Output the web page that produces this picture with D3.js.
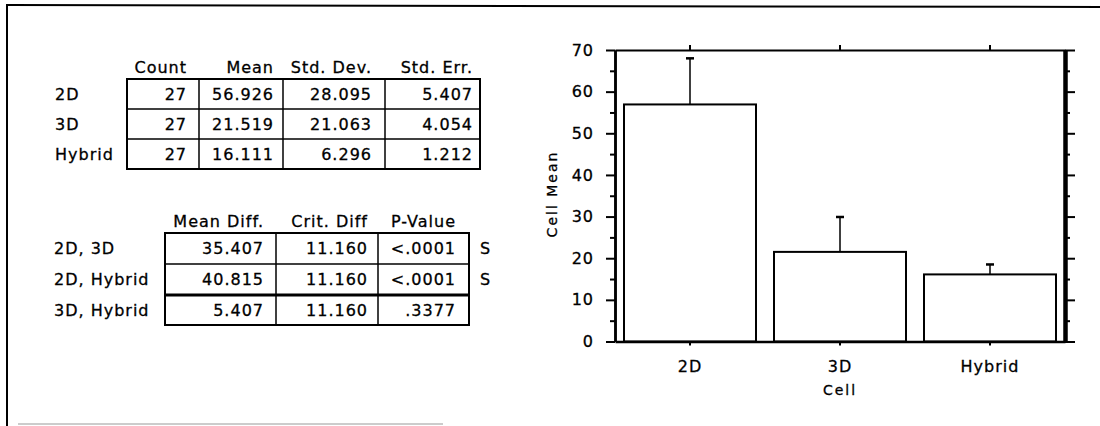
<!DOCTYPE html>
<html>
<head>
<meta charset="utf-8">
<script src="https://cdn.jsdelivr.net/npm/d3@7"></script>
<style>
  html, body { margin: 0; padding: 0; background: #fff; }
  svg { display: block; }
  text { font-family: "DejaVu Sans", sans-serif; fill: #000; stroke: #000; stroke-width: 0.3px; }
</style>
</head>
<body>
<svg id="chart" width="1100" height="426"></svg>
<script>
// ---------- data ----------
const groups = ["2D", "3D", "Hybrid"];
const counts = [27, 27, 27];
const means = [56.926, 21.519, 16.111];
const stdDevs = [28.095, 21.063, 6.296];
const stdErrs = [5.407, 4.054, 1.212];
const errTops = [68.0, 29.9, 18.5];           // upper end of error bars
const statHeaders = ["Count", "Mean", "Std. Dev.", "Std. Err."];

const pairs = ["2D, 3D", "2D, Hybrid", "3D, Hybrid"];
const meanDiffs = [35.407, 40.815, 5.407];
const critDiffs = [11.160, 11.160, 11.160];
const pValues = ["<.0001", "<.0001", ".3377"];
const sigFlags = ["S", "S", ""];
const compHeaders = ["Mean Diff.", "Crit. Diff", "P-Value"];

const yMajorTicks = [0, 10, 20, 30, 40, 50, 60, 70];
const yMinorTicks = [5, 15, 25, 35, 45, 55, 65];
const xTitle = "Cell";
const yTitle = "Cell Mean";

(function () {
// ---------- setup ----------
const svg = d3.select("#chart");
const f3 = d3.format(".3f");
const LS = "1px";

// outer frame
svg.append("line").attr("x1", 6).attr("y1", 5).attr("x2", 1100).attr("y2", 7)
  .attr("stroke", "#000").attr("stroke-width", 2);
svg.append("line").attr("x1", 7).attr("y1", 4).attr("x2", 7).attr("y2", 426)
  .attr("stroke", "#000").attr("stroke-width", 2);
svg.append("line").attr("x1", 18).attr("y1", 424).attr("x2", 443).attr("y2", 424)
  .attr("stroke", "#bbb").attr("stroke-width", 1.5);

function txt(g, x, y, s, anchor, size) {
  return g.append("text").attr("x", x).attr("y", y).attr("text-anchor", anchor || "start")
    .attr("dominant-baseline", "central")
    .style("font-size", (size || 16) + "px").style("letter-spacing", LS).text(s);
}

// ---------- table 1: descriptive stats ----------
const t1 = svg.append("g");
const t1Cols = [127, 199, 283, 385, 480];
const t1TextRight = [187, 274, 372, 473];
const t1Rows = [79, 109, 139, 169];
const t1HeaderY = 67;
statHeaders.forEach((h, i) => txt(t1, t1TextRight[i], t1HeaderY, h, "end"));
t1.append("rect").attr("x", t1Cols[0]).attr("y", t1Rows[0])
  .attr("width", t1Cols[4] - t1Cols[0]).attr("height", t1Rows[3] - t1Rows[0])
  .attr("fill", "none").attr("stroke", "#000").attr("stroke-width", 2);
t1Cols.slice(1, 4).forEach(xx => t1.append("line").attr("x1", xx).attr("x2", xx)
  .attr("y1", t1Rows[0]).attr("y2", t1Rows[3]).attr("stroke", "#000").attr("stroke-width", 1.5));
t1Rows.slice(1, 3).forEach(yy => t1.append("line").attr("x1", t1Cols[0]).attr("x2", t1Cols[4])
  .attr("y1", yy).attr("y2", yy).attr("stroke", "#000").attr("stroke-width", 1.5));
groups.forEach((g, r) => {
  const cy = (t1Rows[r] + t1Rows[r + 1]) / 2;
  txt(t1, 55, cy, g, "start");
  const vals = [String(counts[r]), f3(means[r]), f3(stdDevs[r]), f3(stdErrs[r])];
  vals.forEach((v, c) => txt(t1, t1TextRight[c], cy, v, "end"));
});

// ---------- table 2: comparisons ----------
const t2 = svg.append("g");
const t2Cols = [165, 276, 378, 469];
const t2TextRight = [264, 368, 456];
const t2Rows = [233, 264, 295, 325];
const t2HeaderY = 221;
compHeaders.forEach((h, i) => txt(t2, t2TextRight[i], t2HeaderY, h, "end"));
t2.append("rect").attr("x", t2Cols[0]).attr("y", t2Rows[0])
  .attr("width", t2Cols[3] - t2Cols[0]).attr("height", t2Rows[3] - t2Rows[0])
  .attr("fill", "none").attr("stroke", "#000").attr("stroke-width", 2);
t2Cols.slice(1, 3).forEach(xx => t2.append("line").attr("x1", xx).attr("x2", xx)
  .attr("y1", t2Rows[0]).attr("y2", t2Rows[3]).attr("stroke", "#000").attr("stroke-width", 1.5));
t2.append("line").attr("x1", t2Cols[0]).attr("x2", t2Cols[3]).attr("y1", t2Rows[1]).attr("y2", t2Rows[1])
  .attr("stroke", "#000").attr("stroke-width", 1.5);
t2.append("line").attr("x1", t2Cols[0]).attr("x2", t2Cols[3]).attr("y1", t2Rows[2]).attr("y2", t2Rows[2])
  .attr("stroke", "#000").attr("stroke-width", 3);
pairs.forEach((p, r) => {
  const cy = (t2Rows[r] + t2Rows[r + 1]) / 2;
  txt(t2, 54, cy, p, "start");
  const vals = [f3(meanDiffs[r]), f3(critDiffs[r]), pValues[r]];
  vals.forEach((v, c) => txt(t2, t2TextRight[c], cy, v, "end"));
  if (sigFlags[r]) txt(t2, 480, cy, sigFlags[r], "start");
});

// ---------- bar chart ----------
const pLeft = 615, pRight = 1065, pTop = 50, pBottom = 341.5;
const x = d3.scaleBand().domain(groups).range([pLeft, pRight]).paddingInner(0.12).paddingOuter(0.06);
const y = d3.scaleLinear().domain([0, 70]).range([pBottom, pTop]);
const chart = svg.append("g");

// bars
chart.selectAll("rect.bar").data(groups).join("rect").attr("class", "bar")
  .attr("x", d => x(d)).attr("width", x.bandwidth())
  .attr("y", (d, i) => y(means[i])).attr("height", (d, i) => y(0) - y(means[i]))
  .attr("fill", "#fff").attr("stroke", "#000").attr("stroke-width", 2);

// error bars (upper only)
groups.forEach((g, i) => {
  const cx = x(g) + x.bandwidth() / 2;
  chart.append("line").attr("x1", cx).attr("x2", cx).attr("y1", y(means[i])).attr("y2", y(errTops[i]))
    .attr("stroke", "#000").attr("stroke-width", 1.5);
  chart.append("line").attr("x1", cx - 4).attr("x2", cx + 4).attr("y1", y(errTops[i])).attr("y2", y(errTops[i]))
    .attr("stroke", "#000").attr("stroke-width", 2.5);
});

function styleAxis(g, w) {
  g.selectAll("path.domain").attr("stroke", "#000").attr("stroke-width", w);
  g.selectAll(".tick line").attr("stroke", "#000").attr("stroke-width", 2);
  g.selectAll(".tick text").style("font-family", "DejaVu Sans, sans-serif")
    .style("font-size", "16px").style("letter-spacing", LS).attr("fill", "#000");
}

// left axis
const gl = chart.append("g").attr("transform", `translate(${pLeft},0)`)
  .call(d3.axisLeft(y).tickValues(yMajorTicks).tickSize(9).tickSizeOuter(0).tickPadding(12).tickFormat(d3.format("d")));
styleAxis(gl, 2.5);
const glm = chart.append("g").attr("transform", `translate(${pLeft},0)`)
  .call(d3.axisLeft(y).tickValues(yMinorTicks).tickSize(5).tickSizeOuter(0).tickFormat(""));
styleAxis(glm, 2.5);

// right axis
const gr = chart.append("g").attr("transform", `translate(${pRight},0)`)
  .call(d3.axisRight(y).tickValues(yMajorTicks).tickSize(10).tickSizeOuter(0).tickFormat(""));
styleAxis(gr, 4);
const grm = chart.append("g").attr("transform", `translate(${pRight},0)`)
  .call(d3.axisRight(y).tickValues(yMinorTicks).tickSize(5).tickSizeOuter(0).tickFormat(""));
styleAxis(grm, 4);

// bottom axis
const gb = chart.append("g").attr("transform", `translate(0,${pBottom})`)
  .call(d3.axisBottom(x).tickSize(4).tickSizeOuter(0).tickPadding(15));
styleAxis(gb, 2.5);

// top axis
const gt = chart.append("g").attr("transform", `translate(0,${pTop})`)
  .call(d3.axisTop(x).tickSize(5).tickSizeOuter(0).tickFormat(""));
styleAxis(gt, 2);

// axis titles
chart.append("text").attr("x", (pLeft + pRight) / 2).attr("y", 395).attr("text-anchor", "middle")
  .style("font-size", "14px").style("letter-spacing", "2px").text(xTitle);
chart.append("text").attr("transform", `translate(557,194) rotate(-90)`).attr("text-anchor", "middle")
  .style("font-size", "14px").style("letter-spacing", "2px").text(yTitle);
})();
</script>
</body>
</html>
